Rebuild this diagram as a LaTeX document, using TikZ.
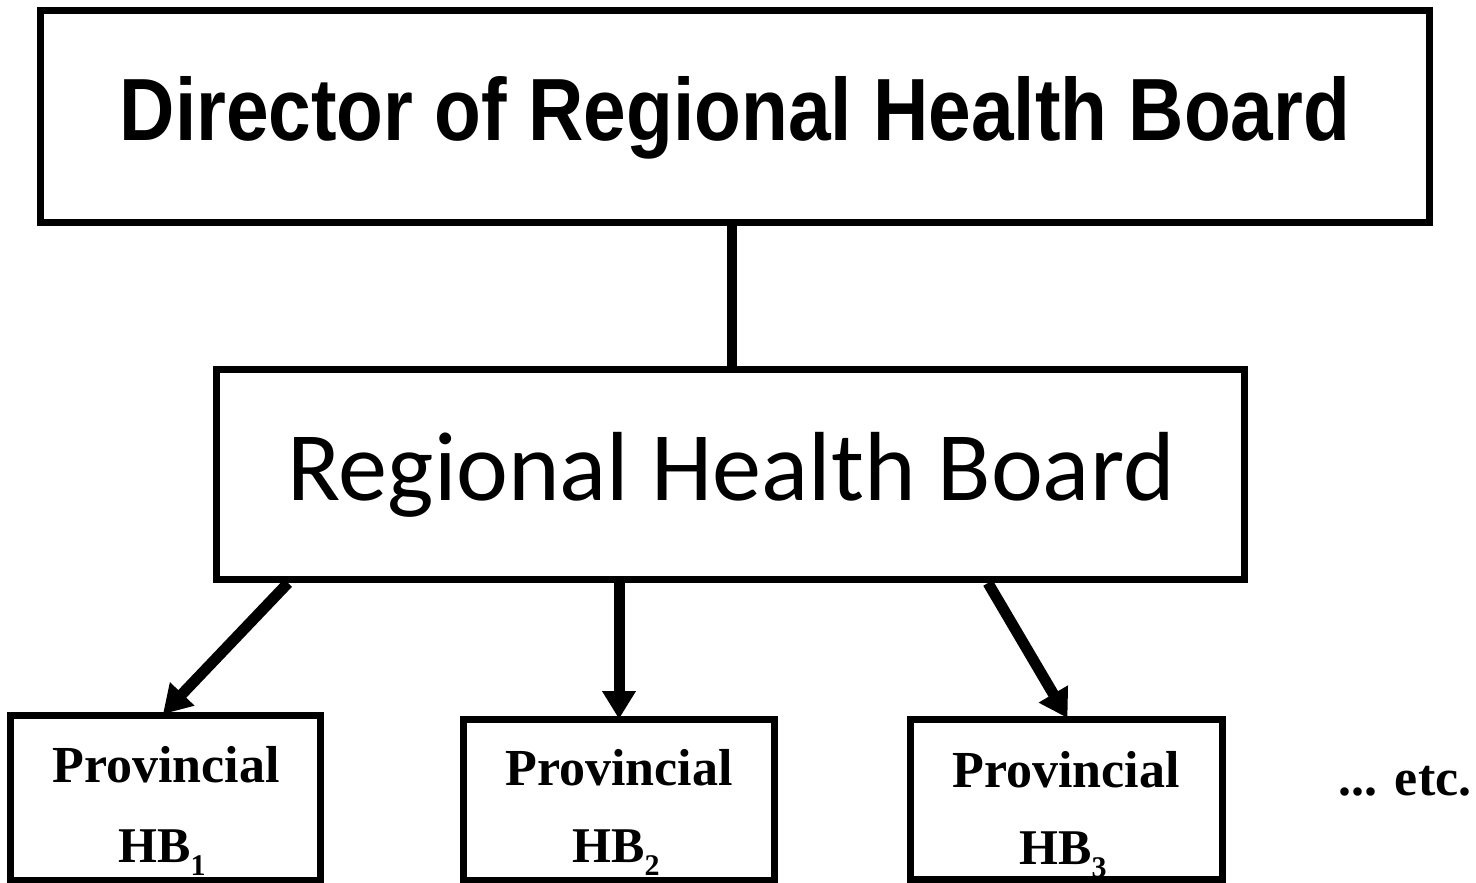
\documentclass[tikz,border=0pt]{standalone}
\usepackage{fontspec}
\setmainfont{Liberation Serif}
\newfontfamily\topfont{Liberation Sans}
\newfontfamily\midfont{Carlito}
\usetikzlibrary{arrows.meta,calc}
\newcommand{\provtext}[1]{\fontsize{50}{50}\selectfont\bfseries HB\raisebox{-13pt}{\fontsize{30}{30}\selectfont #1}}
\begin{document}
\begin{tikzpicture}[x=1pt,y=-1pt,
  box/.style={draw, line width=7pt, inner sep=0pt},
  txt/.style={anchor=base, inner sep=0pt},
  conn/.style={line width=10pt},
  arr/.style={line width=11pt, -{Triangle[length=28pt,width=32pt]}, shorten >=-3pt}]
\useasboundingbox (0,0) rectangle (1476,883);
% boxes
\node[box, minimum width=1389pt, minimum height=212.7pt] (dir) at (735,116.4) {};
\node[box, minimum width=1028pt, minimum height=210pt] (rhb) at (730.5,474.5) {};
\node[box, minimum width=310pt, minimum height=165pt] (p1) at (165,798) {};
\node[box, minimum width=311pt, minimum height=161pt] (p2) at (619,800) {};
\node[box, minimum width=312pt, minimum height=160pt] (p3) at (1066,799) {};
% texts
\node[txt] (dirt) at (735,140) {\resizebox{1230pt}{64pt}{\topfont\bfseries Director of Regional Health Board}};
\node[txt] (rhbt) at (731,500) {\resizebox{887pt}{!}{\midfont Regional Health Board}};
\node[txt] (p1a) at (166,782) {\fontsize{52}{52}\selectfont\bfseries Provincial};
\node[txt] (p1b) at (162,862) {\provtext{1}};
\node[txt] (p2a) at (619,785) {\fontsize{52}{52}\selectfont\bfseries Provincial};
\node[txt] (p2b) at (616,862) {\provtext{2}};
\node[txt] (p3a) at (1066,787) {\fontsize{52}{52}\selectfont\bfseries Provincial};
\node[txt] (p3b) at (1063,864) {\provtext{3}};
\node[txt] (etc) at (1405,795) {\fontsize{52}{52}\selectfont\bfseries ... etc.};
% connectors
\draw[conn] (rhb.north -| 732,0) coordinate (vtop) (vtop |- dir.south) -- (vtop |- rhb.north);
\draw[arr] ([xshift=-442.5pt]rhb.south) -- (p1.north);
\draw[arr] (rhb.south -| p2.north) -- (p2.north);
\draw[arr] ([xshift=257.5pt]rhb.south) -- (p3.north);
\end{tikzpicture}
\end{document}
